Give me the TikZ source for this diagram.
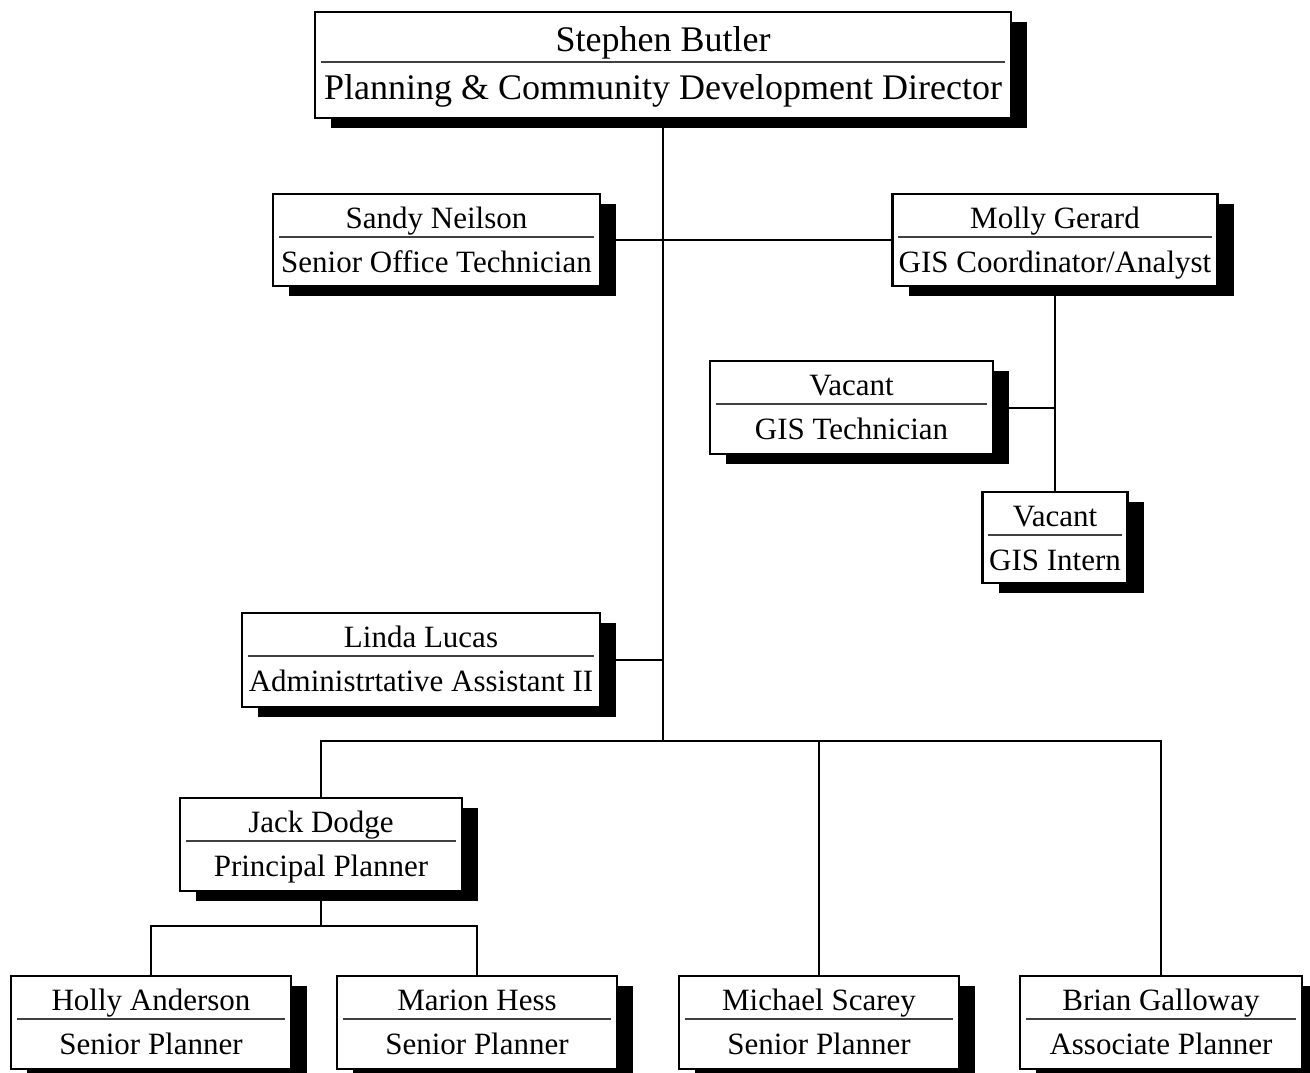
\documentclass[tikz,border=0pt]{standalone}
\usepackage{fontspec}
\setmainfont{Liberation Serif}
\usetikzlibrary{shadows}

\tikzset{
  unit/.style={draw=black, line width=2.4pt, fill=white, inner sep=0pt,
    drop shadow={shadow xshift=16pt, shadow yshift=-10pt, fill=black, opacity=1}},
  divider/.style={draw=black!75, line width=1.2pt},
  link/.style={draw=black, line width=2.4pt},
  person/.style={inner sep=0pt, font=\fontsize{31}{36}\selectfont},
  headline/.style={inner sep=0pt, font=\fontsize{36}{42}\selectfont}
}

% one position box: name, centre x, top y, width, height, person, post
\newcommand\orgunit[7]{%
  \node[unit, minimum width=#4pt, minimum height=#5pt, anchor=north] (#1) at (#2,#3) {};
  \draw[divider] ([xshift=7pt,yshift=-44pt]#1.north west) -- ([xshift=-7pt,yshift=-44pt]#1.north east);
  \node[person, anchor=base] (#1-name) at ([yshift=-35pt]#1.north) {#6};
  \node[person, anchor=base] (#1-post) at ([yshift=-79pt]#1.north) {#7};
}

\begin{document}
\begin{tikzpicture}[x=1pt, y=-1pt]
  \fill[white] (0,0) rectangle (1310,1072);
  \useasboundingbox (0,0) rectangle (1310,1072);

  % director
  \node[unit, minimum width=696pt, minimum height=106pt, anchor=north] (dir) at (663,11) {};
  \draw[divider] ([xshift=7pt,yshift=-51pt]dir.north west) -- ([xshift=-7pt,yshift=-51pt]dir.north east);
  \node[headline, anchor=base] (dir-name) at ([yshift=-40pt]dir.north) {Stephen Butler};
  \node[headline, anchor=base] (dir-post) at ([yshift=-88pt]dir.north) {Planning \& Community Development Director};

  % staff
  \orgunit{sandy}{436.5}{193}{327}{92}{Sandy Neilson}{Senior Office Technician}
  \orgunit{molly}{1055}{193}{325}{92}{Molly Gerard}{GIS Coordinator/Analyst}
  \orgunit{gistech}{851.5}{360}{283}{93}{Vacant}{GIS Technician}
  \orgunit{intern}{1055}{491}{145}{91}{Vacant}{GIS Intern}
  \orgunit{linda}{421}{612}{358}{94}{Linda Lucas}{Administrtative Assistant II}
  \orgunit{jack}{321}{797}{282}{93}{Jack Dodge}{Principal Planner}
  \orgunit{holly}{151}{975}{280}{93}{Holly Anderson}{Senior Planner}
  \orgunit{marion}{477}{975}{280}{93}{Marion Hess}{Senior Planner}
  \orgunit{michael}{819}{975}{280}{93}{Michael Scarey}{Senior Planner}
  \orgunit{brian}{1161}{975}{282}{93}{Brian Galloway}{Associate Planner}

  % reporting lines
  \coordinate (hub) at (663,741);
  \coordinate (jackhub) at (321,926);
  \draw[link] (dir.south) -- (hub);
  \draw[link] (sandy.east) -- (molly.west);
  \draw[link] (molly.south) -- (intern.north);
  \draw[link] (gistech.east) -- (gistech.east -| molly.south);
  \draw[link] (linda.east) -- (linda.east -| dir.south);
  \draw[link] (jack.north) |- (brian.north |- hub) -- (brian.north);
  \draw[link] (michael.north) -- (michael.north |- hub);
  \draw[link] (jack.south) -- (jackhub);
  \draw[link] (holly.north) |- (jackhub) -| (marion.north);
\end{tikzpicture}
\end{document}
